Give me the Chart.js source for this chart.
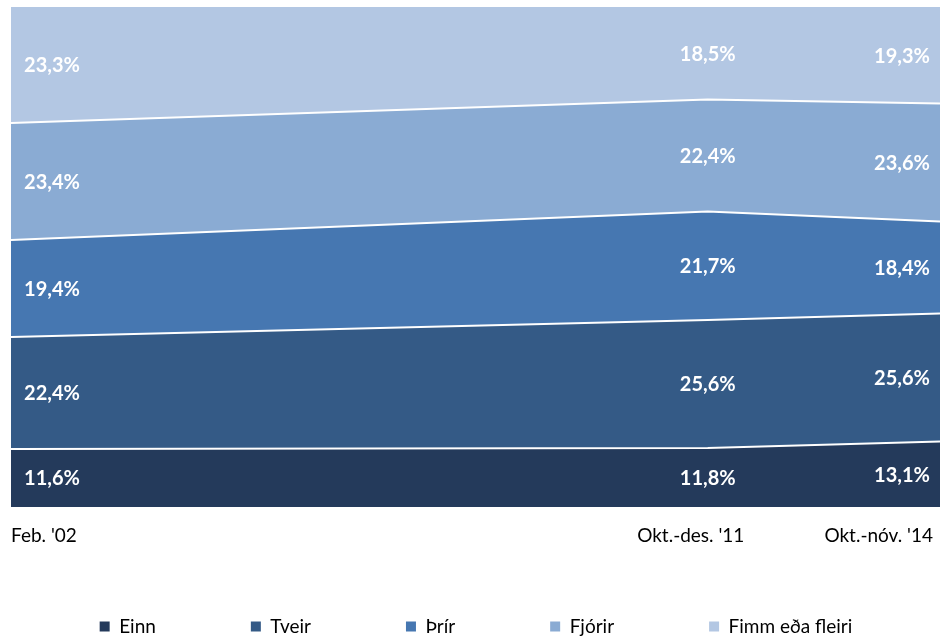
<!doctype html>
<html lang="is">
<head>
  <meta charset="utf-8">
  <title>Fjöldi í heimili</title>
  <script src="https://cdn.jsdelivr.net/npm/chart.js"></script>
  <style>
    html, body { margin: 0; padding: 0; background: #fff; }
    #wrap { width: 952px; height: 636px; }
  </style>
</head>
<body>
  <div id="wrap"><canvas id="chart"></canvas></div>
  <script>
    // mánuðir frá feb. 2002 (staða á tímaás)
    const months = [0, 114, 152];
    const periods = ["Feb. '02", "Okt.-des. '11", "Okt.-nóv. '14"];

    const einn   = [11.6, 11.8, 13.1];
    const tveir  = [22.4, 25.6, 25.6];
    const thrir  = [19.4, 21.7, 18.4];
    const fjorir = [23.4, 22.4, 23.6];
    const fimm   = [23.3, 18.5, 19.3];

    const seriesNames = ['Einn', 'Tveir', 'Þrír', 'Fjórir', 'Fimm eða fleiri'];
    const seriesData = [einn, tveir, thrir, fjorir, fimm];
    const colors = ['#243a5b', '#345a86', '#4677b1', '#8aabd3', '#b3c7e3'];

    const FONT = 'Lato, "Open Sans", sans-serif';

    const fmt = v => v.toFixed(1).replace('.', ',') + '%';

    // gildi inni í hverju svæði
    const bandLabels = {
      id: 'bandLabels',
      afterDatasetsDraw(chart) {
        const ctx = chart.ctx;
        const bottom = chart.chartArea.bottom;
        const shift = [41, 0, -38];
        ctx.save();
        ctx.fillStyle = '#fff';
        ctx.font = 'bold 20px ' + FONT;
        ctx.textAlign = 'center';
        ctx.textBaseline = 'middle';
        chart.data.datasets.forEach((ds, i) => {
          const meta = chart.getDatasetMeta(i);
          const below = i > 0 ? chart.getDatasetMeta(i - 1) : null;
          meta.data.forEach((pt, j) => {
            const yb = below ? below.data[j].y : bottom;
            ctx.fillText(fmt(seriesData[i][j]), pt.x + shift[j], (pt.y + yb) / 2 + 1);
          });
        });
        ctx.restore();
      }
    };

    // tímabilsheiti undir ásnum
    const periodLabels = {
      id: 'periodLabels',
      afterDraw(chart) {
        const ctx = chart.ctx;
        const x = chart.scales.x;
        const y = chart.chartArea.bottom + 35;
        const aligns = ['left', 'center', 'right'];
        const shift = [0, -17, -7];
        ctx.save();
        ctx.fillStyle = '#000';
        ctx.font = '19px ' + FONT;
        ctx.textBaseline = 'alphabetic';
        periods.forEach((p, j) => {
          ctx.textAlign = aligns[j];
          ctx.fillText(p, x.getPixelForValue(months[j]) + shift[j], y);
        });
        ctx.restore();
      }
    };

    const datasets = seriesNames.map((name, i) => ({
      label: name,
      data: months.map((m, j) => ({ x: m, y: seriesData[i][j] })),
      backgroundColor: colors[i],
      borderColor: '#fff',
      borderWidth: i === seriesNames.length - 1 ? 0 : 2,
      fill: i === 0 ? 'origin' : '-1',
      tension: 0,
      pointRadius: 0
    }));

    new Chart(document.getElementById('chart'), {
      type: 'line',
      data: { datasets },
      options: {
        responsive: true,
        maintainAspectRatio: false,
        animation: false,
        layout: { padding: { left: 0, right: 0, top: 7, bottom: -10 } },
        scales: {
          x: {
            type: 'linear', min: 0, max: 152,
            ticks: { display: false },
            grid: { display: false },
            border: { display: false },
            afterFit: s => { s.height = 15; }
          },
          y: {
            stacked: true, min: 0, max: 100,
            ticks: { display: false },
            grid: { display: false },
            border: { display: false },
            afterFit: s => { s.width = 11; }
          },
          y2: {
            position: 'right',
            ticks: { display: false },
            grid: { display: false },
            border: { display: false },
            afterFit: s => { s.width = 12; }
          }
        },
        plugins: {
          tooltip: { enabled: false },
          legend: {
            position: 'bottom',
            labels: {
              boxWidth: 10,
              boxHeight: 10,
              padding: 95,
              color: '#000',
              font: { family: FONT, size: 19 },
              generateLabels: chart => chart.data.datasets.map((ds, i) => ({
                text: ds.label,
                fillStyle: ds.backgroundColor,
                strokeStyle: ds.backgroundColor,
                lineWidth: 0,
                hidden: false,
                datasetIndex: i,
                fontColor: '#000'
              }))
            }
          }
        }
      },
      plugins: [bandLabels, periodLabels]
    });
  </script>
</body>
</html>
